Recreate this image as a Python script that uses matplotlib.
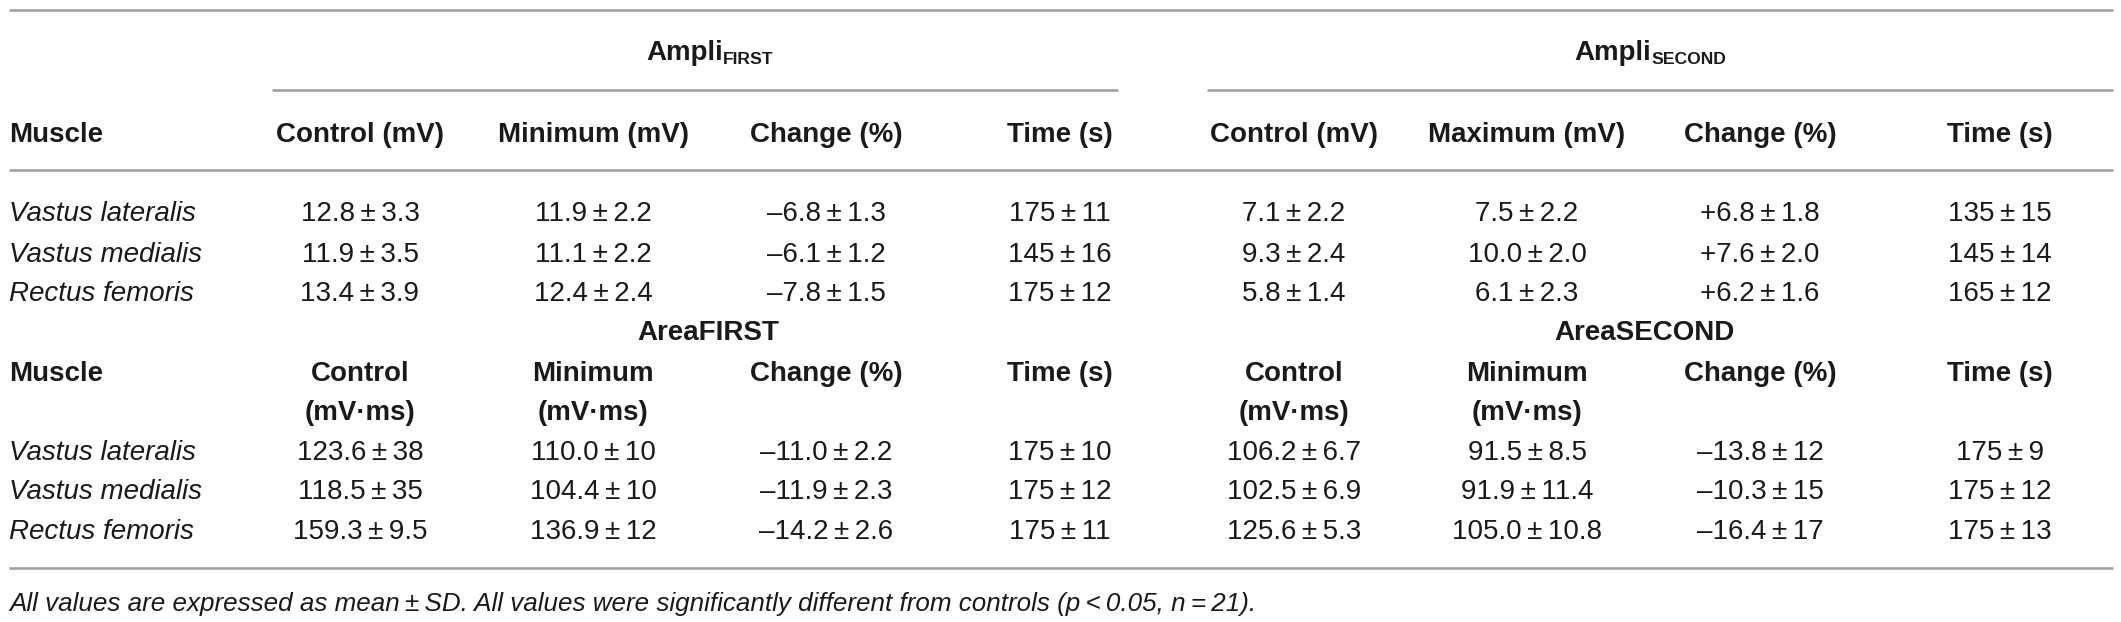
import matplotlib
matplotlib.use("Agg")
import matplotlib.pyplot as plt

plt.rcParams['font.family'] = ['Liberation Sans', 'DejaVu Sans']

T = "\u2009"   # thin space
PM = T + "\u00b1" + T
M = "\u2013"   # minus as printed

muscles = ["Vastus lateralis", "Vastus medialis", "Rectus femoris"]

ampli_headers_first = ["Control (mV)", "Minimum (mV)", "Change (%)", "Time (s)"]
ampli_headers_second = ["Control (mV)", "Maximum (mV)", "Change (%)", "Time (s)"]
area_headers_first = [("Control", "(mV\u00b7ms)"), ("Minimum", "(mV\u00b7ms)"),
                      ("Change (%)", ""), ("Time (s)", "")]
area_headers_second = [("Control", "(mV\u00b7ms)"), ("Minimum", "(mV\u00b7ms)"),
                       ("Change (%)", ""), ("Time (s)", "")]

# Ampli FIRST
af_control = [("12.8", "3.3"), ("11.9", "3.5"), ("13.4", "3.9")]
af_minimum = [("11.9", "2.2"), ("11.1", "2.2"), ("12.4", "2.4")]
af_change = [(M + "6.8", "1.3"), (M + "6.1", "1.2"), (M + "7.8", "1.5")]
af_time = [("175", "11"), ("145", "16"), ("175", "12")]

# Ampli SECOND
as_control = [("7.1", "2.2"), ("9.3", "2.4"), ("5.8", "1.4")]
as_maximum = [("7.5", "2.2"), ("10.0", "2.0"), ("6.1", "2.3")]
as_change = [("+6.8", "1.8"), ("+7.6", "2.0"), ("+6.2", "1.6")]
as_time = [("135", "15"), ("145", "14"), ("165", "12")]

# Area FIRST
arf_control = [("123.6", "38"), ("118.5", "35"), ("159.3", "9.5")]
arf_minimum = [("110.0", "10"), ("104.4", "10"), ("136.9", "12")]
arf_change = [(M + "11.0", "2.2"), (M + "11.9", "2.3"), (M + "14.2", "2.6")]
arf_time = [("175", "10"), ("175", "12"), ("175", "11")]

# Area SECOND
ars_control = [("106.2", "6.7"), ("102.5", "6.9"), ("125.6", "5.3")]
ars_minimum = [("91.5", "8.5"), ("91.9", "11.4"), ("105.0", "10.8")]
ars_change = [(M + "13.8", "12"), (M + "10.3", "15"), (M + "16.4", "17")]
ars_time = [("175", "9"), ("175", "12"), ("175", "13")]

footnote = ("All values are expressed as mean" + PM + "SD. All values were significantly "
            "different from controls (p" + T + "<" + T + "0.05, n" + T + "=" + T + "21).")

# layout (pixels)
W, H = 2121, 622
col_x = [360, 593, 826, 1060, 1294, 1527, 1760, 2000]
left_x = 9
line_color = "#9c9c9c"
txt = "#1a1a1a"
fs = 20

fig = plt.figure(figsize=(W / 100, H / 100), dpi=100)
ax = fig.add_axes([0, 0, 1, 1])
ax.set_xlim(0, W)
ax.set_ylim(H, 0)
ax.axis("off")


def cell(v):
    return v[0] + PM + v[1]


def body(rows_y, columns):
    for i, name in enumerate(muscles):
        ax.text(left_x, rows_y[i], name, fontsize=fs, style="italic", color=txt,
                ha="left", va="baseline")
        for x, col in zip(col_x, columns):
            ax.text(x, rows_y[i], cell(col[i]), fontsize=fs, color=txt,
                    ha="center", va="baseline")


def bold(x, y, s, ha="center", size=fs):
    ax.text(x, y, s, fontsize=size, fontweight="bold", color=txt,
            ha=ha, va="baseline")


def group_title(x_split, main, sub, y):
    bold(x_split, y, main, ha="right")
    bold(x_split, y + 4, sub, ha="left", size=fs * 0.63)


# rules
ax.hlines(10, 9, 2113, color=line_color, lw=1.8)
ax.hlines(90, 272, 1118, color=line_color, lw=1.8)
ax.hlines(90, 1207, 2113, color=line_color, lw=1.8)
ax.hlines(170, 9, 2113, color=line_color, lw=1.8)
ax.hlines(568, 9, 2113, color=line_color, lw=1.8)

# top block: amplitudes
group_title(723, "Ampli", "FIRST", 60)
group_title(1651, "Ampli", "SECOND", 60)
bold(left_x, 142, "Muscle", ha="left")
for x, h in zip(col_x, ampli_headers_first + ampli_headers_second):
    bold(x, 142, h)
body([221, 262, 301],
     [af_control, af_minimum, af_change, af_time,
      as_control, as_maximum, as_change, as_time])

# bottom block: areas
bold(708, 340, "AreaFIRST")
bold(1644, 340, "AreaSECOND")
bold(left_x, 381, "Muscle", ha="left")
for x, (top, bottom) in zip(col_x, area_headers_first + area_headers_second):
    bold(x, 381, top)
    if bottom:
        bold(x, 420, bottom)
body([460, 499, 539],
     [arf_control, arf_minimum, arf_change, arf_time,
      ars_control, ars_minimum, ars_change, ars_time])

ax.text(left_x, 611, footnote, fontsize=18.7, style="italic", color=txt,
        ha="left", va="baseline")

fig.savefig("out.png", dpi=100)
